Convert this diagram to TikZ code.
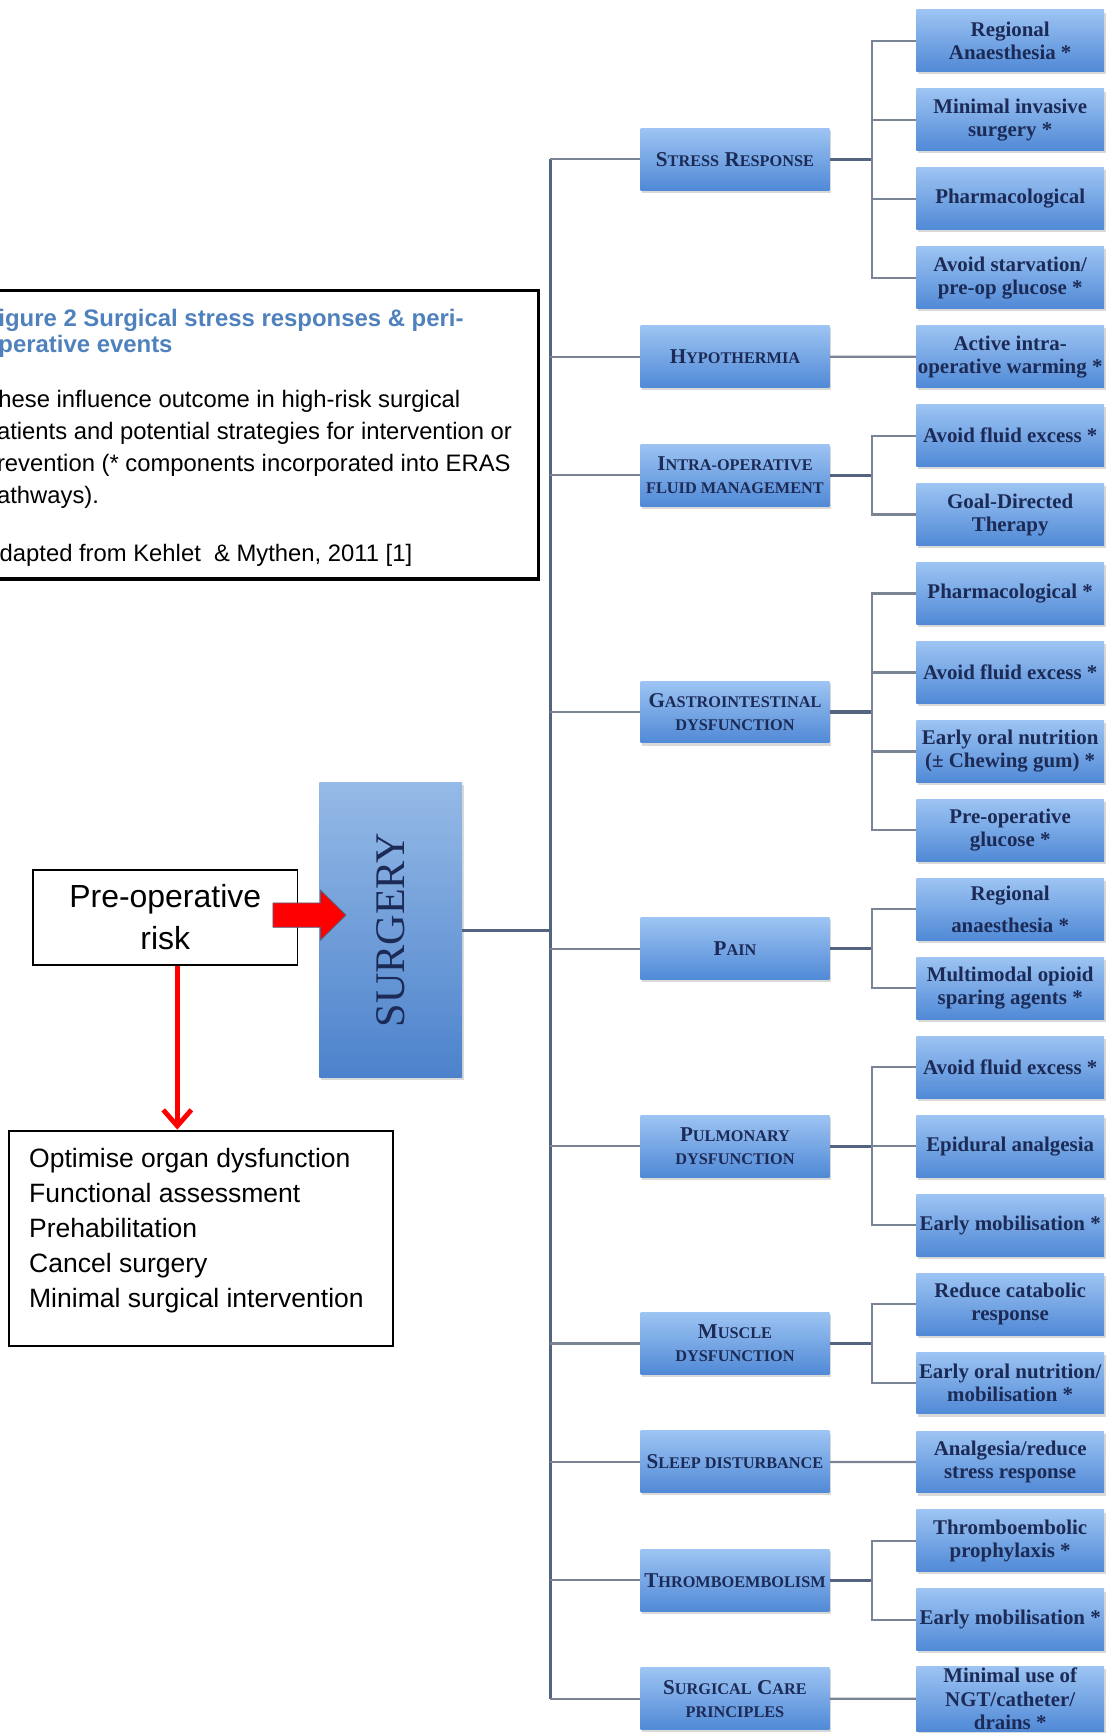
\documentclass[tikz,border=0pt]{standalone}
\usepackage{fontspec}
\setmainfont{Liberation Sans}
\newfontfamily\boxfont{Liberation Serif}
\usetikzlibrary{arrows.meta,shadows}

\definecolor{boxtop}{RGB}{157,196,243}
\definecolor{boxbot}{RGB}{80,137,214}
\definecolor{navy}{RGB}{28,42,86}
\definecolor{stemgray}{RGB}{82,100,128}
\definecolor{twiggray}{RGB}{122,132,148}
\definecolor{titleblue}{RGB}{79,129,189}

% small capitals by hand
\newcommand{\sml}[1]{{\fontsize{8.1}{11.5}\selectfont #1}}

\begin{document}
\begin{tikzpicture}[x=0.55pt,y=-0.55pt]
			\tikzstyle{blue box} = [top color=boxtop, bottom color=boxbot, text=navy, align=center, drop shadow={shadow xshift=0.8pt, shadow yshift=-1.3pt, opacity=0.3}]
			\tikzstyle{category} = [blue box, minimum width=94pt, minimum height=30.8pt, inner xsep=0pt, inner ysep=1pt, font=\boxfont\bfseries\fontsize{10.5}{11.5}\selectfont]
			\tikzstyle{leaf} = [blue box, minimum width=93.5pt, minimum height=30.8pt, inner xsep=0.5pt, inner ysep=1pt, font=\boxfont\bfseries\fontsize{10.4}{11.5}\selectfont]
			\tikzstyle{plain box} = [draw, line width=0.8pt, align=center]
			\tikzset{stem/.style = {draw=stemgray, line width=1.5pt}}
			\tikzset{twig/.style = {draw=twiggray, line width=1.1pt}}
			
			\useasboundingbox (0,0) rectangle (1002,1568);
			\clip (0,0) rectangle (1002,1568);
			
			% caption
			\node[draw, line width=1.7pt, minimum width=284.35pt, minimum height=143.55pt](caption) at (228.5,393.5) {};
			\node[anchor=north west, inner sep=0pt, align=left, text=titleblue, font=\bfseries\fontsize{11.9}{13.2}\selectfont](title) at (-15,279) {Figure 2 Surgical stress responses \& peri-\\operative events};
			\node[anchor=north west, inner sep=0pt, align=left, font=\fontsize{11.85}{15.9}\selectfont](legend) at (-15,353) {These influence outcome in high-risk surgical\\patients and potential strategies for intervention or\\prevention (* components incorporated into ERAS\\pathways).};
			\node[anchor=north west, inner sep=0pt, font=\fontsize{11.85}{15.9}\selectfont](source) at (-15,492) {Adapted from Kehlet\ \ \& Mythen, 2011 [1]};
			
			% left side
			\node[plain box, minimum width=131.5pt, minimum height=47.3pt, inner sep=0pt, font=\fontsize{15.9}{20.9}\selectfont](prerisk) at (149.5,830) {Pre-operative\\risk};
			\node[plain box, line width=1pt, minimum width=191.4pt, minimum height=107.3pt](options) at (182,1120.5) {};
			\node[anchor=north west, inner sep=0pt, align=left, font=\fontsize{13.2}{17.4}\selectfont](optlist) at (26,1039) {Optimise organ dysfunction\\Functional assessment\\Prehabilitation\\Cancel surgery\\Minimal surgical intervention};
			\node[blue box, top color=boxtop!95!black, bottom color=boxbot!95!black, minimum width=71pt, minimum height=146.9pt](surgery) at (353.5,841.5) {};
			\node[rotate=90, text=navy, font=\boxfont\fontsize{21}{21}\selectfont](surgtext) at (surgery.center) {SURGERY};
			\filldraw[fill=red, draw=stemgray, line width=0.4pt] (247,817) -- (290,817) -- (290,805.5) -- (313,828) -- (290,850.5) -- (290,839) -- (247,839) -- cycle;
			\draw[red, line width=2.4pt, -{Straight Barb[length=8pt, width=14pt]}] ([xshift=6pt]prerisk.south) -- ([xshift=6pt]prerisk.south |- options.north);
			
			% categories
			\node[category](stress) at (665,144.1) {S\sml{TRESS} R\sml{ESPONSE}};
			\node[category](hypo) at (665,322.7) {H\sml{YPOTHERMIA}};
			\node[category](fluid) at (665,429.9) {I\sml{NTRA-OPERATIVE}\\\sml{FLUID MANAGEMENT}};
			\node[category](gastro) at (665,644.2) {G\sml{ASTROINTESTINAL}\\\sml{DYSFUNCTION}};
			\node[category](pain) at (665,858.4) {P\sml{AIN}};
			\node[category](pulm) at (665,1037) {P\sml{ULMONARY}\\\sml{DYSFUNCTION}};
			\node[category](muscle) at (665,1215.6) {M\sml{USCLE}\\\sml{DYSFUNCTION}};
			\node[category](sleep) at (665,1322.7) {S\sml{LEEP DISTURBANCE}};
			\node[category](thrombo) at (665,1429.9) {T\sml{HROMBOEMBOLISM}};
			\node[category](care) at (665,1537) {S\sml{URGICAL} C\sml{ARE}\\\sml{PRINCIPLES}};
			
			% interventions
			\node[leaf](regan) at (914,37) {Regional\\Anaesthesia *};
			\node[leaf](mininv) at (914,108.43) {Minimal invasive\\surgery *};
			\node[leaf](pharma) at (914,179.86) {Pharmacological};
			\node[leaf](starv) at (914,251.29) {Avoid starvation/\\pre-op glucose *};
			\node[leaf](warm) at (914,322.72) {Active intra-\\operative warming *};
			\node[leaf](excessa) at (914,394.15) {Avoid fluid excess *};
			\node[leaf](gdt) at (914,465.58) {Goal-Directed\\Therapy};
			\node[leaf](pharmb) at (914,537.01) {Pharmacological *};
			\node[leaf](excessb) at (914,608.44) {Avoid fluid excess *};
			\node[leaf](oral) at (914,679.87) {Early oral nutrition\\(± Chewing gum) *};
			\node[leaf](glucose) at (914,751.3) {Pre-operative\\glucose *};
			\node[leaf](regana) at (914,822.73) {Regional\\[4.5pt]anaesthesia *};
			\node[leaf](opioid) at (914,894.16) {Multimodal opioid\\sparing agents *};
			\node[leaf](excessc) at (914,965.59) {Avoid fluid excess *};
			\node[leaf](epidural) at (914,1037.02) {Epidural analgesia};
			\node[leaf](mobila) at (914,1108.45) {Early mobilisation *};
			\node[leaf](catab) at (914,1179.88) {Reduce catabolic\\response};
			\node[leaf](oralmob) at (914,1251.31) {Early oral nutrition/\\mobilisation *};
			\node[leaf](analg) at (914,1322.74) {Analgesia/reduce\\stress response};
			\node[leaf](prophyl) at (914,1394.17) {Thromboembolic\\prophylaxis *};
			\node[leaf](mobilb) at (914,1465.6) {Early mobilisation *};
			\node[leaf](drains) at (914,1537.03) {Minimal use of\\NGT/catheter/\\drains *};
			
			% trunk
			\coordinate (trunk) at (498,0);
			\coordinate (bus) at (789,0);
			\draw[stem] (surgery.east) -- (surgery.east -| trunk);
			\draw[stem] (stress.west -| trunk) -- (care.west -| trunk);
			\draw[twig] (stress.west -| trunk) -- (stress.west);
			\draw[twig] (hypo.west -| trunk) -- (hypo.west);
			\draw[twig] (fluid.west -| trunk) -- (fluid.west);
			\draw[twig] (gastro.west -| trunk) -- (gastro.west);
			\draw[twig] (pain.west -| trunk) -- (pain.west);
			\draw[twig] (pulm.west -| trunk) -- (pulm.west);
			\draw[twig] (muscle.west -| trunk) -- (muscle.west);
			\draw[twig] (sleep.west -| trunk) -- (sleep.west);
			\draw[twig] (thrombo.west -| trunk) -- (thrombo.west);
			\draw[twig] (care.west -| trunk) -- (care.west);
			
			% branches
			\draw[stem] (stress.east) -- (stress.east -| bus);
			\draw[twig] (stress.east -| bus) |- (regan.west) (stress.east -| bus) |- (mininv.west) (stress.east -| bus) |- (pharma.west) (stress.east -| bus) |- (starv.west);
			\draw[twig] (hypo.east) -- (warm.west);
			\draw[stem] (fluid.east) -- (fluid.east -| bus);
			\draw[twig] (fluid.east -| bus) |- (excessa.west) (fluid.east -| bus) |- (gdt.west);
			\draw[stem] (gastro.east) -- (gastro.east -| bus);
			\draw[twig] (gastro.east -| bus) |- (pharmb.west) (gastro.east -| bus) |- (excessb.west) (gastro.east -| bus) |- (oral.west) (gastro.east -| bus) |- (glucose.west);
			\draw[stem] (pain.east) -- (pain.east -| bus);
			\draw[twig] (pain.east -| bus) |- (regana.west) (pain.east -| bus) |- (opioid.west);
			\draw[stem] (pulm.east) -- (pulm.east -| bus);
			\draw[twig] (pulm.east -| bus) |- (excessc.west) (pulm.east -| bus) |- (epidural.west) (pulm.east -| bus) |- (mobila.west);
			\draw[stem] (muscle.east) -- (muscle.east -| bus);
			\draw[twig] (muscle.east -| bus) |- (catab.west) (muscle.east -| bus) |- (oralmob.west);
			\draw[twig] (sleep.east) -- (analg.west);
			\draw[stem] (thrombo.east) -- (thrombo.east -| bus);
			\draw[twig] (thrombo.east -| bus) |- (prophyl.west) (thrombo.east -| bus) |- (mobilb.west);
			\draw[twig] (care.east) -- (drains.west);
			
\end{tikzpicture}
\end{document}
